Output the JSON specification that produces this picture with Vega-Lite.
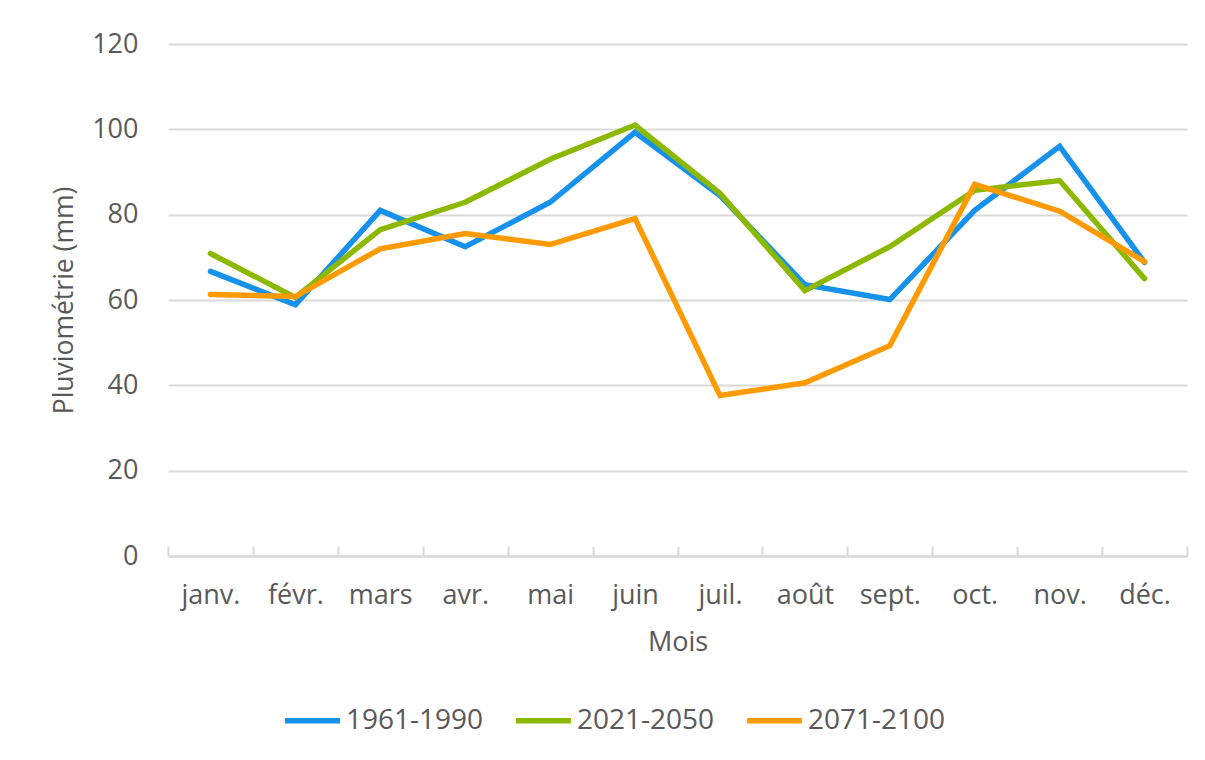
{
  "$schema": "https://vega.github.io/schema/vega-lite/v6.json",
  "autosize": {"type": "none"},
  "width": 1019,
  "height": 512,
  "padding": {"left": 168, "top": 44, "right": 18, "bottom": 204},
  "background": "white",
  "config": {
    "view": {"stroke": null},
    "font": "Open Sans"
  },
  "data": {
    "values": [
      {"mois": "janv.", "periode": "1961-1990", "pluie": 66.7},
      {"mois": "févr.", "periode": "1961-1990", "pluie": 58.9},
      {"mois": "mars", "periode": "1961-1990", "pluie": 81},
      {"mois": "avr.", "periode": "1961-1990", "pluie": 72.5},
      {"mois": "mai", "periode": "1961-1990", "pluie": 82.9},
      {"mois": "juin", "periode": "1961-1990", "pluie": 99.3},
      {"mois": "juil.", "periode": "1961-1990", "pluie": 84.5},
      {"mois": "août", "periode": "1961-1990", "pluie": 63.6},
      {"mois": "sept.", "periode": "1961-1990", "pluie": 60.1},
      {"mois": "oct.", "periode": "1961-1990", "pluie": 81},
      {"mois": "nov.", "periode": "1961-1990", "pluie": 96},
      {"mois": "déc.", "periode": "1961-1990", "pluie": 68.8},
      {"mois": "janv.", "periode": "2021-2050", "pluie": 70.9},
      {"mois": "févr.", "periode": "2021-2050", "pluie": 60.6},
      {"mois": "mars", "periode": "2021-2050", "pluie": 76.5},
      {"mois": "avr.", "periode": "2021-2050", "pluie": 82.9},
      {"mois": "mai", "periode": "2021-2050", "pluie": 93},
      {"mois": "juin", "periode": "2021-2050", "pluie": 101},
      {"mois": "juil.", "periode": "2021-2050", "pluie": 85},
      {"mois": "août", "periode": "2021-2050", "pluie": 62.2},
      {"mois": "sept.", "periode": "2021-2050", "pluie": 72.5},
      {"mois": "oct.", "periode": "2021-2050", "pluie": 85.7},
      {"mois": "nov.", "periode": "2021-2050", "pluie": 88},
      {"mois": "déc.", "periode": "2021-2050", "pluie": 65},
      {"mois": "janv.", "periode": "2071-2100", "pluie": 61.3},
      {"mois": "févr.", "periode": "2071-2100", "pluie": 60.8},
      {"mois": "mars", "periode": "2071-2100", "pluie": 72},
      {"mois": "avr.", "periode": "2071-2100", "pluie": 75.6},
      {"mois": "mai", "periode": "2071-2100", "pluie": 73},
      {"mois": "juin", "periode": "2071-2100", "pluie": 79.1},
      {"mois": "juil.", "periode": "2071-2100", "pluie": 37.6},
      {"mois": "août", "periode": "2071-2100", "pluie": 40.6},
      {"mois": "sept.", "periode": "2071-2100", "pluie": 49.3},
      {"mois": "oct.", "periode": "2071-2100", "pluie": 87.1},
      {"mois": "nov.", "periode": "2071-2100", "pluie": 80.8},
      {"mois": "déc.", "periode": "2071-2100", "pluie": 69}
    ]
  },
  "mark": {"type": "line", "strokeWidth": 5.5, "strokeJoin": "miter", "strokeCap": "round"},
  "encoding": {
    "x": {
      "field": "mois",
      "type": "nominal",
      "sort": null,
      "bandPosition": 0.5,
      "scale": {"type": "band", "paddingInner": 0, "paddingOuter": 0},
      "axis": {
        "title": "Mois",
        "titleFont": "Open Sans",
        "titleFontSize": 27,
        "titleFontWeight": "normal",
        "titleColor": "#595959",
        "titlePadding": 21,
        "labelFont": "Open Sans",
        "labelFontSize": 27,
        "labelColor": "#595959",
        "labelAngle": 0,
        "labelPadding": 36,
        "domainColor": "#d9d9d9",
        "domainWidth": 2,
        "tickColor": "#d9d9d9",
        "tickWidth": 2,
        "tickSize": -10,
        "tickBand": "extent",
        "grid": false
      }
    },
    "y": {
      "field": "pluie",
      "type": "quantitative",
      "scale": {"domain": [0, 120]},
      "axis": {
        "title": "Pluviométrie (mm)",
        "titleFont": "Open Sans",
        "titleFontSize": 26.5,
        "titleFontWeight": "normal",
        "titleColor": "#595959",
        "titlePadding": 13,
        "values": [0, 20, 40, 60, 80, 100, 120],
        "labelFont": "Open Sans",
        "labelFontSize": 27,
        "labelColor": "#595959",
        "labelPadding": 30,
        "domain": false,
        "ticks": false,
        "grid": true,
        "gridColor": "#d9d9d9",
        "gridWidth": 2
      }
    },
    "color": {
      "field": "periode",
      "type": "nominal",
      "scale": {
        "domain": ["1961-1990", "2021-2050", "2071-2100"],
        "range": ["#1792ec", "#8cb800", "#ff9a00"]
      },
      "legend": {
        "title": null,
        "orient": "none",
        "direction": "horizontal",
        "legendX": 114,
        "legendY": 646,
        "symbolType": "stroke",
        "symbolSize": 3025,
        "symbolStrokeWidth": 5.5,
        "labelFont": "Open Sans",
        "labelFontSize": 28,
        "labelColor": "#595959",
        "labelOffset": 3,
        "columnPadding": 21
      }
    }
  }
}
